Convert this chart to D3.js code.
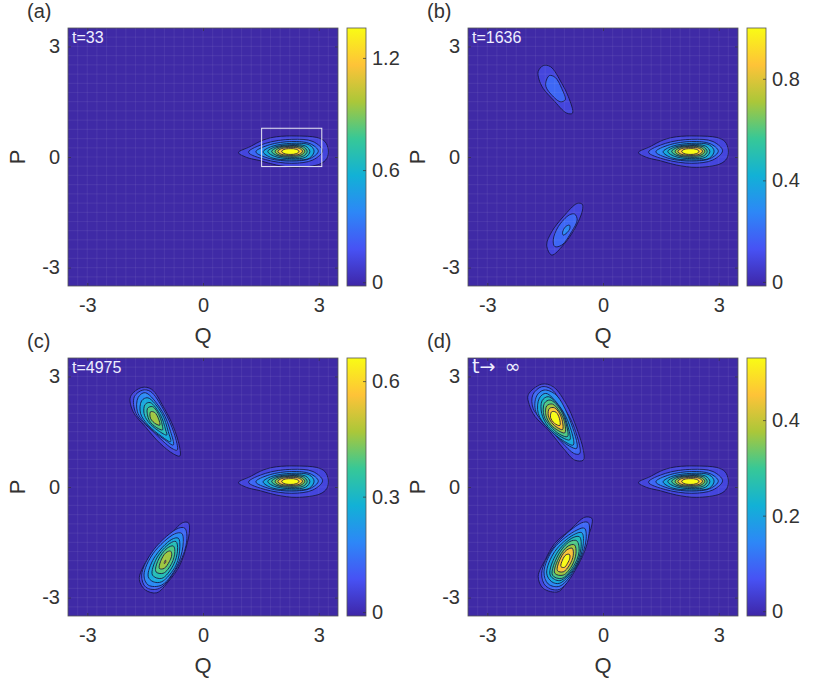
<!doctype html>
<html>
<head>
<meta charset="utf-8">
<title>Phase space densities</title>
<script src="https://d3js.org/d3.v7.min.js"></script>
<style>
  body { margin: 0; background: #fff; }
  svg { display: block; }
  text { font-family: "Liberation Sans", Helvetica, Arial, sans-serif; fill: #333; }
  .tick line { stroke: #333; stroke-width: 0.7; }
  .tick text { font-size: 20px; }
</style>
</head>
<body>
<svg width="830" height="680"></svg>
<script>
// panels
var panelNames = ["(a)", "(b)", "(c)", "(d)"];
var timeLabels = ["t=33", "t=1636", "t=4975", "t\u2192\u2002\u221E"];
var colorMax = [1.36, 1.0, 0.66, 0.53];
var colorMin = [-0.02, -0.016, -0.01, -0.01];
var colorTicks = [[0, 0.6, 1.2], [0, 0.4, 0.8], [0, 0.3, 0.6], [0, 0.2, 0.4]];
var axisTicks = [-3, 0, 3];

// parula colormap stops
var parulaStops = ["#3e26a8", "#4752f4", "#2d87f7", "#12b1d6", "#37c897", "#abc739", "#fec338", "#f9fb15"];

// contour levels, as fraction of the colour range (outermost first)
var levels = [0.1, 0.2, 0.3, 0.4, 0.5, 0.6, 0.7, 0.85, 1.0];

// white box in panel (a)
var boxQ = [1.52, 3.08];
var boxP = [-0.26, 0.78];

// contours as [Q, P] outlines, outermost first
var mainRings = [
  [[0.92,0.12],[1.22,0.28],[1.56,0.46],[1.91,0.55],[2.43,0.57],[2.95,0.53],[3.16,0.42],[3.25,0.19],[3.21,-0.04],[3.03,-0.19],[2.43,-0.28],[1.91,-0.22],[1.48,-0.10],[1.13,-0.01]],
  [[1.18,0.13],[1.62,0.37],[2.3,0.48],[2.85,0.42],[3.10,0.17],[2.85,-0.08],[2.3,-0.17],[1.62,-0.07]],
  [[1.37,0.14],[1.72,0.33],[2.3,0.42],[2.78,0.36],[2.99,0.16],[2.78,-0.04],[2.3,-0.11],[1.72,-0.04]],
  [[1.56,0.14],[1.78,0.285],[2.3,0.37],[2.76,0.325],[2.88,0.16],[2.76,-0.03],[2.3,-0.08],[1.78,-0.02]],
  [[1.68,0.15],[1.85,0.265],[2.3,0.335],[2.66,0.295],[2.77,0.15],[2.66,-0.005],[2.3,-0.045],[1.85,0.02]],
  [[1.78,0.15],[1.92,0.255],[2.28,0.31],[2.6,0.275],[2.70,0.15],[2.6,0.025],[2.28,-0.01],[1.92,0.04]],
  [[1.87,0.15],[1.97,0.24],[2.28,0.29],[2.54,0.26],[2.64,0.155],[2.54,0.05],[2.28,0.02],[1.97,0.055]],
  [[1.94,0.15],[2.03,0.225],[2.28,0.26],[2.5,0.235],[2.58,0.155],[2.5,0.075],[2.28,0.045],[2.03,0.075]],
  [[2.04,0.15],[2.1,0.205],[2.26,0.226],[2.42,0.21],[2.49,0.15],[2.42,0.09],[2.26,0.07],[2.1,0.095]]
];

var upperB = [
  [[-1.68,2.32],[-1.55,2.48],[-1.36,2.45],[-1.07,2.0],[-0.90,1.64],[-0.79,1.19],[-0.94,1.19],[-1.29,1.55],[-1.55,1.86],[-1.66,2.11]],
  [[-1.48,2.04],[-1.39,2.21],[-1.24,2.16],[-1.07,1.86],[-0.98,1.55],[-1.11,1.50],[-1.37,1.73],[-1.48,1.91]]
];
var lowerB = [
  [[-0.54,-1.28],[-0.67,-1.26],[-1.03,-1.62],[-1.33,-2.03],[-1.46,-2.39],[-1.33,-2.66],[-1.03,-2.39],[-0.73,-1.94],[-0.53,-1.44]],
  [[-0.73,-1.55],[-0.87,-1.57],[-1.16,-1.89],[-1.29,-2.25],[-1.25,-2.43],[-1.07,-2.39],[-0.81,-2.02],[-0.67,-1.71]],
  [[-0.87,-1.85],[-0.97,-1.89],[-1.05,-2.05],[-1.03,-2.12],[-0.93,-2.05],[-0.86,-1.94]]
];

var upperC = [
  [[-1.88,2.45],[-1.59,2.70],[-1.33,2.65],[-1.03,2.18],[-0.77,1.64],[-0.60,1.05],[-0.60,0.84],[-0.77,0.90],[-1.12,1.19],[-1.50,1.64],[-1.81,2.04]],
  [[-1.78,2.45],[-1.56,2.63],[-1.36,2.59],[-1.03,2.11],[-0.75,1.46],[-0.67,1.0],[-0.81,1.05],[-1.29,1.50],[-1.74,2.0]],
  [[-1.68,2.43],[-1.50,2.56],[-1.05,2.04],[-0.84,1.50],[-0.77,1.14],[-0.99,1.28],[-1.42,1.64],[-1.70,2.04]],
  [[-1.59,2.34],[-1.43,2.42],[-1.07,2.0],[-0.90,1.50],[-0.84,1.23],[-1.07,1.37],[-1.42,1.68],[-1.62,2.0]],
  [[-1.50,2.24],[-1.37,2.29],[-1.10,1.95],[-0.97,1.55],[-0.94,1.41],[-1.16,1.53],[-1.42,1.77],[-1.53,2.0]],
  [[-1.44,2.13],[-1.31,2.18],[-1.13,1.93],[-1.05,1.64],[-1.05,1.55],[-1.20,1.61],[-1.39,1.80]],
  [[-1.36,2.04],[-1.25,2.02],[-1.15,1.84],[-1.12,1.68],[-1.22,1.71],[-1.36,1.86]]
];
var lowerC = [
  [[-0.38,-0.97],[-0.53,-0.97],[-0.90,-1.35],[-1.29,-1.75],[-1.59,-2.25],[-1.65,-2.52],[-1.50,-2.79],[-1.20,-2.87],[-0.90,-2.57],[-0.60,-2.12],[-0.42,-1.57],[-0.35,-1.17]],
  [[-0.47,-1.12],[-0.64,-1.12],[-1.27,-1.69],[-1.59,-2.39],[-1.48,-2.72],[-1.13,-2.75],[-0.61,-2.07],[-0.42,-1.44]],
  [[-0.55,-1.26],[-0.73,-1.27],[-1.29,-1.80],[-1.53,-2.39],[-1.42,-2.66],[-1.07,-2.66],[-0.64,-2.07],[-0.51,-1.48]],
  [[-0.64,-1.39],[-0.81,-1.42],[-1.27,-1.93],[-1.42,-2.43],[-1.29,-2.57],[-1.07,-2.57],[-0.70,-2.12],[-0.60,-1.62]],
  [[-0.70,-1.48],[-0.86,-1.53],[-1.20,-1.93],[-1.31,-2.39],[-1.07,-2.48],[-0.77,-2.12],[-0.66,-1.71]],
  [[-0.77,-1.60],[-0.93,-1.66],[-1.16,-1.98],[-1.22,-2.30],[-1.03,-2.34],[-0.81,-2.07],[-0.73,-1.75]],
  [[-0.84,-1.74],[-0.96,-1.78],[-1.10,-2.02],[-1.13,-2.21],[-1.01,-2.21],[-0.87,-2.02],[-0.81,-1.84]],
  [[-0.97,-1.98],[-1.0,-2.03],[-1.0,-2.08],[-0.97,-2.05]]
];

var upperD = [
  [[-1.94,2.50],[-1.59,2.79],[-1.29,2.72],[-0.94,2.23],[-0.73,1.73],[-0.51,1.00],[-0.51,0.73],[-0.73,0.73],[-1.03,1.05],[-1.42,1.55],[-1.76,1.91],[-1.91,2.23]],
  [[-1.82,2.50],[-1.59,2.72],[-1.33,2.65],[-1.03,2.18],[-0.77,1.68],[-0.60,0.91],[-0.73,0.90],[-1.12,1.27],[-1.50,1.73],[-1.81,2.13]],
  [[-1.72,2.47],[-1.53,2.63],[-1.22,2.50],[-0.86,1.82],[-0.68,1.05],[-0.87,1.11],[-1.29,1.46],[-1.74,2.04]],
  [[-1.65,2.41],[-1.48,2.54],[-1.12,2.18],[-0.87,1.68],[-0.77,1.14],[-0.99,1.23],[-1.42,1.59],[-1.68,2.0]],
  [[-1.58,2.34],[-1.42,2.45],[-1.10,2.13],[-0.92,1.68],[-0.86,1.28],[-1.07,1.35],[-1.42,1.64],[-1.59,2.0]],
  [[-1.52,2.27],[-1.37,2.36],[-1.10,2.09],[-0.96,1.73],[-0.92,1.37],[-1.12,1.43],[-1.37,1.66],[-1.53,1.93]],
  [[-1.46,2.20],[-1.31,2.25],[-1.12,2.04],[-1.0,1.77],[-0.99,1.47],[-1.16,1.53],[-1.36,1.70],[-1.48,1.95]],
  [[-1.39,2.13],[-1.26,2.15],[-1.13,2.0],[-1.05,1.77],[-1.05,1.56],[-1.18,1.61],[-1.33,1.75],[-1.42,1.95]],
  [[-1.33,2.04],[-1.22,2.03],[-1.13,1.86],[-1.12,1.67],[-1.26,1.73],[-1.36,1.89]]
];
var lowerD = [
  [[-0.29,-0.85],[-0.47,-0.82],[-0.86,-1.17],[-1.25,-1.53],[-1.50,-1.98],[-1.68,-2.43],[-1.55,-2.75],[-1.16,-2.84],[-0.90,-2.52],[-0.60,-1.98],[-0.42,-1.44],[-0.29,-1.03]],
  [[-0.38,-0.97],[-0.55,-0.97],[-1.27,-1.62],[-1.59,-2.34],[-1.48,-2.69],[-1.13,-2.78],[-0.61,-2.05],[-0.38,-1.39]],
  [[-0.48,-1.12],[-0.68,-1.17],[-1.27,-1.66],[-1.53,-2.30],[-1.42,-2.63],[-1.12,-2.69],[-0.64,-2.07],[-0.44,-1.44]],
  [[-0.55,-1.24],[-0.77,-1.30],[-1.25,-1.75],[-1.46,-2.34],[-1.33,-2.57],[-1.12,-2.61],[-0.68,-2.12],[-0.51,-1.53]],
  [[-0.61,-1.35],[-0.81,-1.39],[-1.20,-1.80],[-1.37,-2.39],[-1.12,-2.54],[-0.73,-2.16],[-0.57,-1.66]],
  [[-0.68,-1.46],[-0.86,-1.48],[-1.16,-1.84],[-1.31,-2.39],[-1.07,-2.48],[-0.77,-2.16],[-0.62,-1.75]],
  [[-0.74,-1.57],[-0.90,-1.60],[-1.13,-1.89],[-1.25,-2.34],[-1.03,-2.39],[-0.81,-2.14],[-0.70,-1.80]],
  [[-0.80,-1.66],[-0.94,-1.71],[-1.10,-1.93],[-1.18,-2.27],[-1.03,-2.30],[-0.87,-2.12],[-0.77,-1.85]],
  [[-0.87,-1.83],[-0.96,-1.84],[-1.05,-1.98],[-1.09,-2.16],[-1.0,-2.18],[-0.92,-2.07],[-0.86,-1.93]]
];

var panelBlobs = [
  [mainRings],
  [mainRings, upperB, lowerB],
  [mainRings, upperC, lowerC],
  [mainRings, upperD, lowerD]
];

var svg = d3.select("svg");
var plotW = 270, plotH = 258;
var panelX = [68, 468, 68, 468];
var panelY = [28, 28, 358, 358];

var parula = d3.scaleLinear()
    .domain(parulaStops.map(function(d, i) { return i / (parulaStops.length - 1); }))
    .range(parulaStops)
    .interpolate(d3.interpolateRgb);

var grad = svg.append("defs").append("linearGradient")
    .attr("id", "parula").attr("x1", 0).attr("y1", 1).attr("x2", 0).attr("y2", 0);
parulaStops.forEach(function(c, i) {
  grad.append("stop").attr("offset", i / (parulaStops.length - 1)).attr("stop-color", c);
});

var x = d3.scaleLinear().domain([-3.5, 3.5]).range([0, plotW]);
var y = d3.scaleLinear().domain([-3.5, 3.5]).range([plotH, 0]);

var ring = d3.line()
    .x(function(d) { return x(d[0]); })
    .y(function(d) { return y(d[1]); })
    .curve(d3.curveCatmullRomClosed.alpha(0.5));

panelNames.forEach(function(name, i) {
  var g = svg.append("g").attr("transform", "translate(" + panelX[i] + "," + panelY[i] + ")");

  // background
  g.append("rect").attr("width", plotW).attr("height", plotH).attr("fill", "#3f2aa6");

  // contours
  panelBlobs[i].forEach(function(rings) {
    rings.forEach(function(r, k) {
      g.append("path")
          .attr("d", ring(r))
          .attr("fill", parula(levels[k]))
          .attr("stroke", "#14143f")
          .attr("stroke-width", 0.85);
    });
  });

  // faint mesh lines of the shading
  var mesh = d3.range(-3.25, 3.5, 0.25);
  g.selectAll(".meshx").data(mesh).enter().append("line")
      .attr("x1", x).attr("x2", x).attr("y1", 0).attr("y2", plotH)
      .attr("stroke", "#fff").attr("stroke-opacity", 0.06).attr("stroke-width", 1.2);
  g.selectAll(".meshy").data(mesh).enter().append("line")
      .attr("y1", y).attr("y2", y).attr("x1", 0).attr("x2", plotW)
      .attr("stroke", "#fff").attr("stroke-opacity", 0.06).attr("stroke-width", 1.2);

  // axes
  var plainTick = function(d) { return String(d); };
  g.append("g").attr("transform", "translate(0," + plotH + ")")
      .call(d3.axisBottom(x).tickValues(axisTicks).tickSize(-3).tickPadding(12).tickFormat(plainTick));
  g.append("g")
      .call(d3.axisLeft(y).tickValues(axisTicks).tickSize(-3).tickPadding(8).tickFormat(plainTick));
  g.append("g").call(d3.axisTop(x).tickValues(axisTicks).tickSize(-3).tickFormat(""));
  g.append("g").attr("transform", "translate(" + plotW + ",0)")
      .call(d3.axisRight(y).tickValues(axisTicks).tickSize(-3).tickFormat(""));
  g.selectAll(".domain").remove();
  g.selectAll(".tick text").attr("font-family", null).attr("font-size", null);

  g.append("rect").attr("width", plotW).attr("height", plotH)
      .attr("fill", "none").attr("stroke", "#555").attr("stroke-width", 0.8);

  // white box in (a)
  if (i === 0) {
    g.append("rect")
        .attr("x", x(boxQ[0])).attr("y", y(boxP[1]))
        .attr("width", x(boxQ[1]) - x(boxQ[0])).attr("height", y(boxP[0]) - y(boxP[1]))
        .attr("fill", "none").attr("stroke", "#e8e8f4").attr("stroke-width", 1);
  }

  // labels
  g.append("text").attr("x", 4).attr("y", 15)
      .style("fill", "#eeeeff")
      .style("font-size", i === 3 ? "19px" : "16px")
      .style("font-family", i === 3 ? "'DejaVu Sans'" : null)
      .text(timeLabels[i]);
  g.append("text").attr("x", -41).attr("y", -10)
      .style("font-size", "20px").text(name);
  g.append("text").attr("x", plotW / 2).attr("y", plotH + 57)
      .attr("text-anchor", "middle").style("font-size", "22px").text("Q");
  g.append("text").attr("transform", "translate(-43," + (plotH / 2) + ") rotate(-90)")
      .attr("text-anchor", "middle").style("font-size", "22px").text("P");

  // colour bar
  var cb = g.append("g").attr("transform", "translate(" + (plotW + 9) + ",0)");
  var c = d3.scaleLinear().domain([colorMin[i], colorMax[i]]).range([plotH, 0]);
  cb.append("rect").attr("width", 19).attr("height", plotH)
      .attr("fill", "url(#parula)").attr("stroke", "#555").attr("stroke-width", 0.8);
  var cAxis = cb.append("g").attr("transform", "translate(19,0)")
      .call(d3.axisRight(c).tickValues(colorTicks[i]).tickSize(-3).tickPadding(6).tickFormat(plainTick));
  cAxis.select(".domain").remove();
  cAxis.selectAll(".tick text").attr("font-family", null).attr("font-size", null);
});
</script>
</body>
</html>
